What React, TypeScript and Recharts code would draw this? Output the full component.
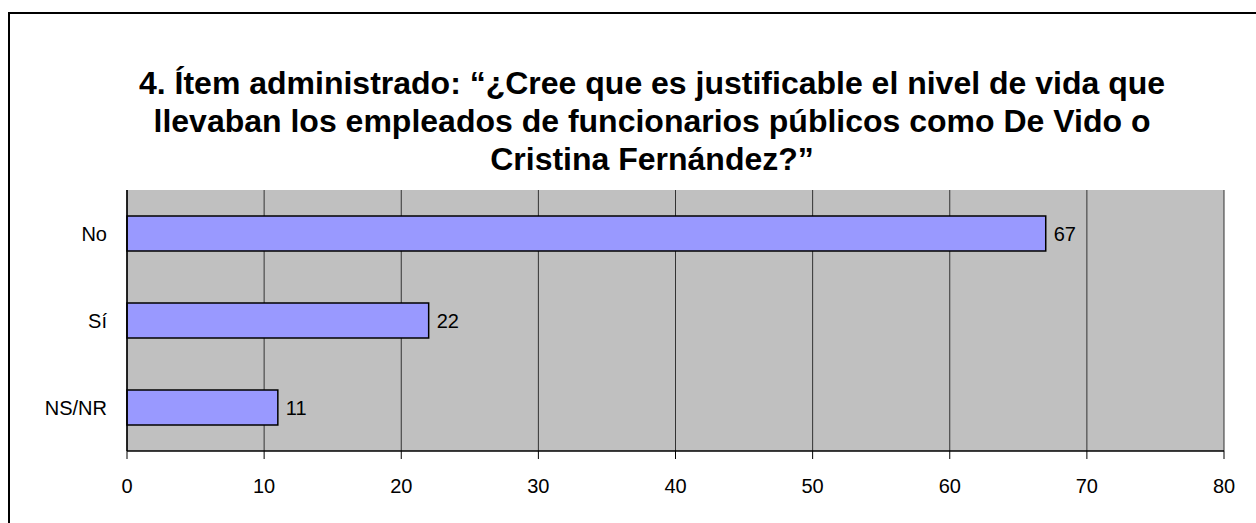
import React from "react";
import {
  BarChart,
  Bar,
  XAxis,
  YAxis,
  CartesianGrid,
  LabelList,
} from "recharts";

const categories = ["No", "Sí", "NS/NR"];
const values = [67, 22, 11];
const xTicks = [0, 10, 20, 30, 40, 50, 60, 70, 80];
const boundaryTicks = [0, 1, 2, 3];
const titleLines = [
  "4. Ítem administrado: “¿Cree que es justificable el nivel de vida que",
  "llevaban los empleados de funcionarios públicos como De Vido o",
  "Cristina Fernández?”",
];

const data = categories.map((c, i) => ({ name: c, value: values[i] }));

const FONT = "'Liberation Sans', Arial, sans-serif";

export default function App() {
  return (
    <div
      style={{
        position: "fixed",
        left: 0,
        top: 0,
        width: 1256,
        height: 523,
        overflow: "hidden",
        background: "#fff",
        fontFamily: FONT,
      }}
    >
      <div
        style={{
          position: "absolute",
          left: 8,
          top: 12,
          width: 1270,
          height: 540,
          border: "2px solid #000",
          boxSizing: "border-box",
        }}
      />
      <div
        style={{
          position: "absolute",
          left: 0,
          top: 64,
          width: 1304,
          textAlign: "center",
          fontWeight: "bold",
          fontSize: 32,
          lineHeight: "38px",
          color: "#000",
        }}
      >
        {titleLines.map((l, i) => (
          <div key={i} style={{ whiteSpace: "nowrap" }}>
            {l}
          </div>
        ))}
      </div>
      <div style={{ position: "absolute", left: 0, top: 0 }}>
        <BarChart
          width={1256}
          height={523}
          data={data}
          layout="vertical"
          margin={{ top: 190, right: 32, bottom: 22, left: 0 }}
          barSize={35}
          style={{ fontFamily: FONT }}
        >
          <CartesianGrid
            yAxisId="cat"
            horizontal={false}
            fill="#C0C0C0"
            stroke="#333"
            strokeWidth={1}
          />
          <YAxis
            yAxisId="bnd"
            type="number"
            domain={[0, 3]}
            ticks={boundaryTicks}
            width={0}
            tickSize={8}
            tickFormatter={() => ""}
            axisLine={false}
            tickLine={{ stroke: "#000" }}
          />
          <YAxis
            yAxisId="cat"
            type="category"
            dataKey="name"
            width={127}
            tickSize={0}
            tickMargin={20}
            tickLine={false}
            axisLine={{ stroke: "#000", strokeWidth: 1.5 }}
            tick={{ fill: "#000", fontSize: 20, fontFamily: FONT }}
          />
          <YAxis
            yAxisId="right"
            orientation="right"
            type="number"
            domain={[0, 3]}
            width={0}
            tick={false}
            tickLine={false}
            axisLine={{ stroke: "#808080", strokeWidth: 1.5 }}
          />
          <XAxis
            type="number"
            domain={[0, 80]}
            ticks={xTicks}
            interval={0}
            height={50}
            tickSize={8}
            tickMargin={20}
            axisLine={{ stroke: "#000", strokeWidth: 1.5 }}
            tickLine={{ stroke: "#000" }}
            tick={{ fill: "#000", fontSize: 20, fontFamily: FONT }}
          />
          <XAxis
            xAxisId="top"
            orientation="top"
            type="number"
            domain={[0, 80]}
            height={0}
            tick={false}
            tickLine={false}
            axisLine={{ stroke: "#808080", strokeWidth: 1.5 }}
          />
          <Bar
            dataKey="value"
            yAxisId="cat"
            fill="#9999FF"
            stroke="#000"
            strokeWidth={1.5}
            isAnimationActive={false}
          >
            <LabelList
              dataKey="value"
              position="right"
              offset={8}
              fill="#000"
              fontSize={20}
              fontFamily={FONT}
            />
          </Bar>
        </BarChart>
      </div>
    </div>
  );
}
